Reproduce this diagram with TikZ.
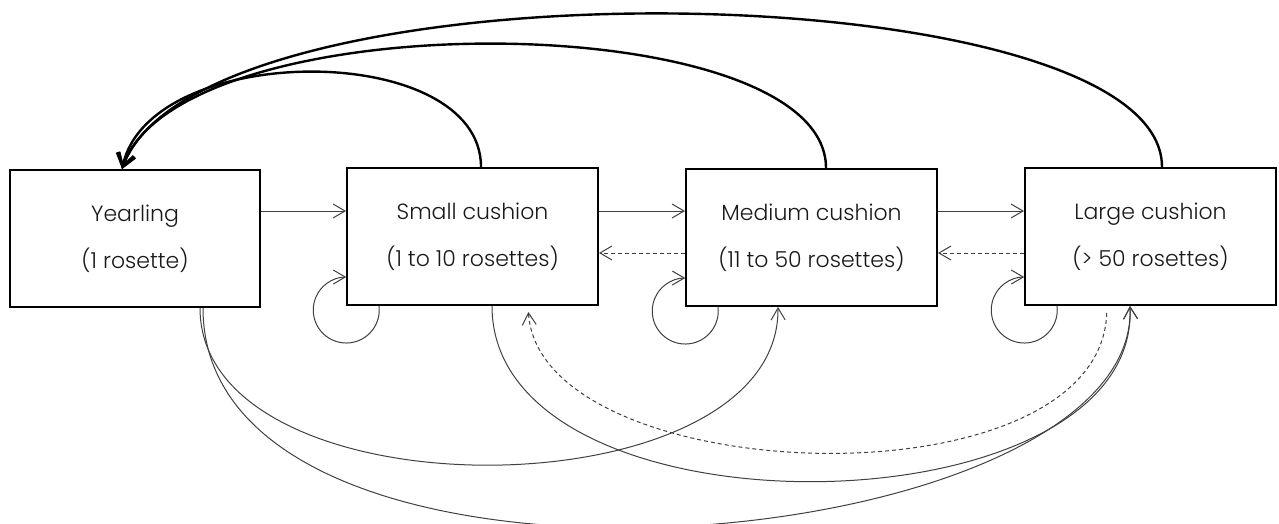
\documentclass[tikz,border=0pt]{standalone}
\usepackage{fontspec}
\setmainfont{Poppins}[UprightFont=* Light]
\usetikzlibrary{arrows.meta}
\begin{document}
\begin{tikzpicture}[x=0.5pt,y=0.5pt,
  box/.style={draw=black, line width=1pt, minimum width=125.5pt, minimum height=68.5pt,
    inner sep=0pt, align=center, font=\fontsize{11}{23.5}\selectfont, text=black!90},
  flow/.style={draw=black!75, line width=0.5pt, -{Straight Barb[length=6pt,width=7pt]}},
  back/.style={flow, dash pattern=on 2pt off 1.5pt},
  ret/.style={draw=black, line width=1.2pt, -{Straight Barb[length=6.5pt,width=8.5pt]}},
]
\useasboundingbox (0,0) rectangle (1279,-524);

% stages
\node[box, minimum width=125pt] (yr) at (135,-238.5) {Yearling\\(1 rosette)};
\node[box] (sm) at (472.5,-236.5) {Small cushion\\(1 to 10 rosettes)};
\node[box] (md) at (811.5,-237.5) {Medium cushion\\(11 to 50 rosettes)};
\node[box] (lg) at (1150.5,-236.5) {Large cushion\\(> 50 rosettes)};

% forward steps
\draw[flow] (yr.east |- 0,-211) -- (sm.west |- 0,-211);
\draw[flow] (sm.east |- 0,-211) -- (md.west |- 0,-211);
\draw[flow] (md.east |- 0,-211) -- (lg.west |- 0,-211);

% backward steps
\draw[back] (md.west |- 0,-253) -- (sm.east |- 0,-253);
\draw[back] (lg.west |- 0,-253) -- (md.east |- 0,-253);

% staying in the same stage
\draw[flow] ([xshift=16.5pt]sm.south west) arc[start angle=7, end angle=-270, radius=16.5pt];
\draw[flow] ([xshift=16.5pt]md.south west) arc[start angle=7, end angle=-270, radius=16.5pt];
\draw[flow] ([xshift=16.5pt]lg.south west) arc[start angle=7, end angle=-270, radius=16.5pt];

% return to yearling
\draw[ret] (sm.north -| 481,0) .. controls (481,-40) and (150,-40) .. (yr.north -| 122,0);
\draw[ret] (md.north -| 826,0) .. controls (826,-5) and (180,0) .. (yr.north -| 122,0);
\draw[ret] (lg.north -| 1162,0) .. controls (1162,30) and (200,45) .. (yr.north -| 122,0);

% skipping stages
\draw[flow] (yr.south -| 200,0) .. controls (200,-520) and (780,-515) .. (md.south -| 778,0);
\draw[flow] (yr.south -| 203,0) .. controls (203,-640) and (1140,-560) .. (lg.south -| 1130,0);
\draw[flow] (sm.south -| 492,0) .. controls (492,-545) and (1140,-535) .. (lg.south -| 1130,0);
\draw[back, shorten <=3.5pt, shorten >=3pt] (lg.south -| 1107,0) .. controls (1100,-510) and (540,-490) .. (sm.south -| 528,0);
\end{tikzpicture}
\end{document}
